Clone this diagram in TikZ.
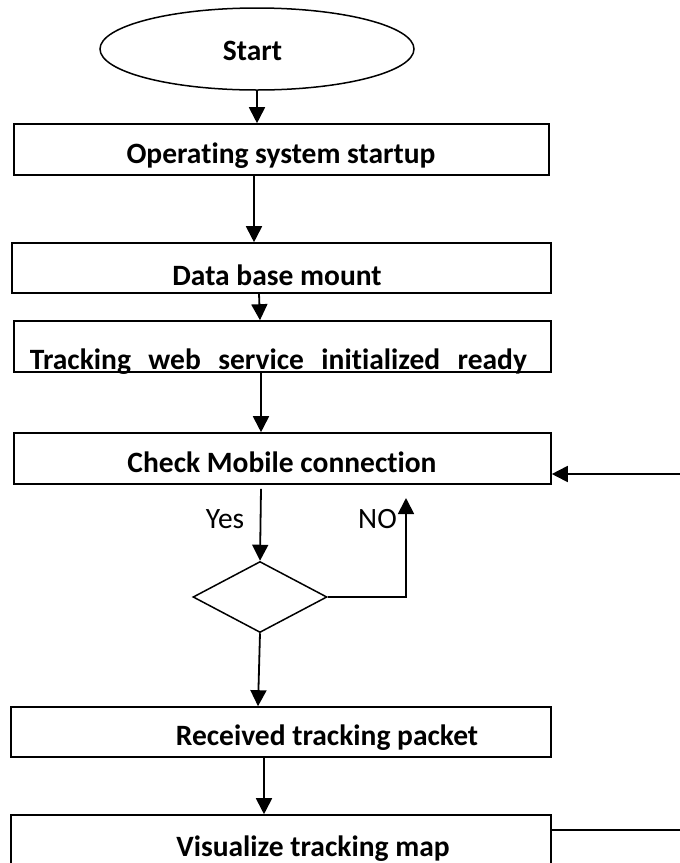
\documentclass[tikz,border=0pt]{standalone}
\usepackage{fontspec}
\setmainfont{Carlito}[Ligatures=NoCommon]
\usetikzlibrary{arrows.meta,shapes.geometric,calc}
\tikzset{
  boxnode/.style={draw, line width=1.6pt, rectangle, inner sep=0pt},
  txt/.style={anchor=base, inner sep=0pt, font=\fontsize{29.5}{34}\selectfont\bfseries},
  lbl/.style={anchor=base, inner sep=0pt, font=\fontsize{29.5}{34}\selectfont},
  arr/.style={line width=1.8pt, -{Triangle[length=16pt,width=16pt]}},
  plain/.style={line width=1.8pt},
}
\begin{document}
\begin{tikzpicture}[x=1pt,y=-1pt]
\useasboundingbox (0,0) rectangle (680,863);
\fill[white] (0,0) rectangle (680,863);
\clip (0,0) rectangle (680,863);
% shapes
\node[draw, line width=1.5pt, ellipse, minimum width=314pt, minimum height=82pt, inner sep=0pt] (st) at (257,49) {};
\node[boxnode, minimum width=535pt, minimum height=51pt] (b1) at (281.5,149.5) {};
\node[boxnode, minimum width=539pt, minimum height=50pt] (b2) at (281.5,268) {};
\node[boxnode, minimum width=537pt, minimum height=51pt] (b3) at (282.5,346.5) {};
\node[boxnode, minimum width=537pt, minimum height=51pt] (b4) at (282.5,458.5) {};
\node[draw, line width=1.5pt, diamond, minimum width=134pt, minimum height=71pt, inner sep=0pt] (d) at (260,597) {};
\node[boxnode, minimum width=540pt, minimum height=50pt] (b5) at (281,732) {};
\node[boxnode, minimum width=540pt, minimum height=60pt] (b6) at (281,845) {};
% texts
\node[txt] (tst) at (252.5,60) {Start};
\node[txt] (t1) at (281,163) {Operating system startup};
\node[txt] (t2) at (277,285) {Data base mount};
\node[txt] (t3) at (278.5,369) {\makebox[497pt][s]{Tracking web service initialized ready}};
\node[txt] (t4) at (282,472) {Check Mobile connection};
\node[txt] (t5) at (327,745) {Received tracking packet};
\node[txt] (t6) at (313,856) {Visualize tracking map};
\node[lbl] (yes) at (225,528) {Yes};
\node[lbl] (no) at (377.5,528) {NO};
% free ends
\coordinate (nop) at (406,498);
\coordinate (rin) at (680,474);
\coordinate (rout) at (680,830);
% connectors
\draw[arr] (st.south) -- (st.south |- b1.north);
\draw[arr] ([xshift=-27.5pt]b1.south) -- ([xshift=-27.5pt]b2.north);
\draw[arr] ([xshift=-22.5pt]b2.south) -- ([xshift=-22.5pt]b3.north);
\draw[arr] ([xshift=-21.5pt]b3.south) -- ([xshift=-21.5pt]b4.north);
\draw[arr] ([xshift=-21.5pt,yshift=-4pt]b4.south) -- (d.north);
\draw[arr] (d.south) -- ([xshift=-23pt]b5.north);
\draw[arr] ([xshift=-17pt]b5.south) -- ([xshift=-17pt]b6.north);
\draw[arr] (d.east) -| (nop);
\draw[arr] (rin) -- (rin -| b4.east);
\draw[plain] (rout -| b6.east) -- (rout);
\end{tikzpicture}
\end{document}
